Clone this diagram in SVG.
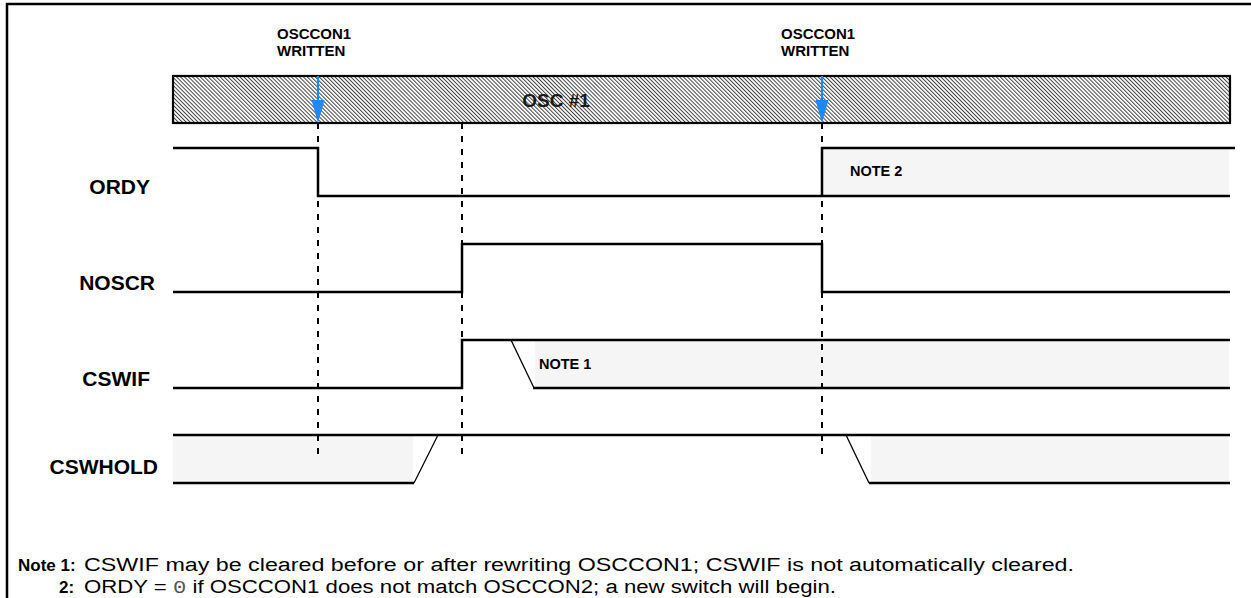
<svg xmlns="http://www.w3.org/2000/svg" width="1251" height="598" viewBox="0 0 1251 598">
<style>
.sig{fill:none;stroke:#000;stroke-width:2.5}
.slope{fill:none;stroke:#000;stroke-width:1.3}
.dash{fill:none;stroke:#000;stroke-width:2;stroke-dasharray:6 7}
.gray{fill:#f5f5f5;stroke:none}
.lbl{font-family:"Liberation Sans",Arial,sans-serif;font-weight:bold;font-size:21px;fill:#000;text-anchor:end}
.top{font-family:"Liberation Sans",Arial,sans-serif;font-weight:bold;font-size:15px;fill:#000}
.note{font-family:"Liberation Sans",Arial,sans-serif;font-weight:bold;font-size:14.5px;fill:#000}
.nt{font-family:"Liberation Sans",Arial,sans-serif;font-size:18px;fill:#000}
.ntb{font-family:"Liberation Sans",Arial,sans-serif;font-size:17px;font-weight:bold;fill:#000}
.mono{font-family:"Liberation Mono","Courier New",monospace;fill:#555}
.arrow{stroke:#1e88f5;stroke-width:2.2;fill:none}
.head{fill:#1e88f5;stroke:none}
</style>
<defs>
<pattern id="hatch" width="2.8" height="2.8" patternUnits="userSpaceOnUse" patternTransform="rotate(-45)">
<rect width="2.8" height="2.8" fill="#fff"/>
<rect x="0" y="0" width="1" height="2.8" fill="#444"/>
</pattern>
</defs>
<rect width="1251" height="598" fill="#fff"/>
<g id="frame">
<path d="M7,598 V4 H1251" fill="none" stroke="#000" stroke-width="2.5"/>
</g>
<g id="osc-band">
<rect x="173" y="76" width="1057" height="47" fill="url(#hatch)" stroke="#000" stroke-width="2.2"/>
<text x="556" y="107" text-anchor="middle" font-family="'Liberation Sans',Arial,sans-serif" font-weight="bold" font-size="19" fill="#1a1a1a">OSC #1</text>
</g>
<g id="label-oscon-1">
<text class="top" x="277" y="39">OSCCON1</text>
<text class="top" x="277" y="56">WRITTEN</text>
</g>
<g id="label-oscon-2">
<text class="top" x="781" y="39">OSCCON1</text>
<text class="top" x="781" y="56">WRITTEN</text>
</g>
<g id="ordy">
<text class="lbl" x="150" y="194">ORDY</text>
<rect class="gray" x="822" y="149" width="407" height="46"/>
<path class="sig" d="M173,148 H318 V196 H1230"/>
<path class="sig" d="M822,196 V148 H1235"/>
<text class="note" x="850" y="176">NOTE 2</text>
</g>
<g id="noscr">
<text class="lbl" x="155" y="290">NOSCR</text>
<path class="sig" d="M173,292 H462 V244 H822 V292 H1230"/>
</g>
<g id="cswif">
<text class="lbl" x="150" y="386">CSWIF</text>
<rect class="gray" x="535" y="341" width="694" height="46"/>
<path class="sig" d="M173,388 H462 V340 H1230"/>
<path class="slope" d="M511,340 L534,388"/>
<path class="sig" d="M533,388 H1230"/>
<text class="note" x="539" y="369">NOTE 1</text>
</g>
<g id="cswhold">
<text class="lbl" x="158" y="474">CSWHOLD</text>
<rect class="gray" x="173" y="436" width="240" height="46"/>
<rect class="gray" x="871" y="436" width="358" height="46"/>
<path class="sig" d="M173,435 H1230"/>
<path class="sig" d="M173,483 H414"/>
<path class="slope" d="M414,483 L438,435"/>
<path class="slope" d="M846,435 L869,483"/>
<path class="sig" d="M869,483 H1230"/>
</g>
<g id="connectors">
<path class="dash" d="M318,123 V457"/>
<path class="dash" d="M462,123 V457"/>
<path class="dash" d="M822,123 V457"/>
<path class="arrow" d="M318,76 V102"/>
<polygon class="head" points="311.5,100 324.5,100 318,123"/>
<path class="arrow" d="M822,76 V102"/>
<polygon class="head" points="815.5,100 828.5,100 822,123"/>
</g>
<g id="notes">
<text class="ntb" x="18" y="571">Note 1:</text>
<text class="nt" x="84" y="571" textLength="990" lengthAdjust="spacingAndGlyphs">CSWIF may be cleared before or after rewriting OSCCON1; CSWIF is not automatically cleared.</text>
<text class="ntb" x="59" y="593">2:</text>
<text class="nt" x="84" y="593" textLength="752" lengthAdjust="spacingAndGlyphs">ORDY = <tspan class="mono">0</tspan> if OSCCON1 does not match OSCCON2; a new switch will begin.</text>
</g>
</svg>
